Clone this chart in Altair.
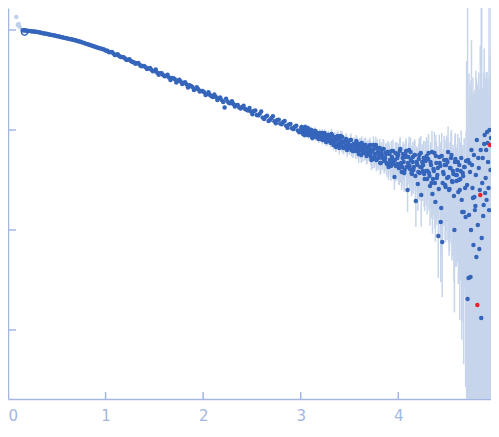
import altair as alt
import pandas as pd

# ---------------- data ----------------
q_low_a = [0.15, 0.18, 0.21, 0.24, 0.27, 0.30, 0.33, 0.36, 0.39, 0.42,
           0.45, 0.48, 0.51, 0.54, 0.57, 0.60, 0.63, 0.66, 0.69, 0.72,
           0.75, 0.78, 0.81, 0.84, 0.87, 0.90, 0.93, 0.96, 0.99, 1.02,
           1.05, 1.08, 1.11, 1.14, 1.17, 1.20, 1.23, 1.26, 1.29, 1.32,
           1.35, 1.38, 1.41, 1.44, 1.47, 1.50, 1.53, 1.56, 1.59, 1.62,
           1.65, 1.68, 1.71, 1.74, 1.77, 1.80, 1.83, 1.86, 1.89, 1.92,
           1.95, 1.98, 2.01, 2.04, 2.07, 2.10, 2.13, 2.16, 2.19, 2.22,
           2.25, 2.28, 2.31, 2.34, 2.37, 2.40, 2.43, 2.46, 2.49, 2.52,
           2.55, 2.58, 2.61, 2.64, 2.67, 2.70, 2.73, 2.76, 2.79, 2.82,
           2.85, 2.88, 2.91, 2.94, 2.97]
i_low_a = [0.995, 0.986, 0.979, 0.971, 0.964, 0.955, 0.942, 0.929, 0.916, 0.904,
           0.891, 0.879, 0.867, 0.853, 0.839, 0.826, 0.815, 0.802, 0.789, 0.773,
           0.757, 0.740, 0.723, 0.708, 0.692, 0.676, 0.662, 0.649, 0.635, 0.620,
           0.601, 0.583, 0.567, 0.551, 0.536, 0.520, 0.505, 0.491, 0.477, 0.464,
           0.450, 0.437, 0.425, 0.412, 0.401, 0.389, 0.373, 0.369, 0.355, 0.347,
           0.335, 0.331, 0.322, 0.309, 0.305, 0.295, 0.285, 0.280, 0.269, 0.257,
           0.255, 0.245, 0.239, 0.229, 0.224, 0.214, 0.214, 0.207, 0.199, 0.168,
           0.193, 0.185, 0.182, 0.177, 0.168, 0.170, 0.162, 0.157, 0.153, 0.155,
           0.141, 0.145, 0.133, 0.136, 0.123, 0.132, 0.1225, 0.126, 0.116, 0.120,
           0.110, 0.1135, 0.104, 0.1076, 0.0989]
err_pct_low_a = [1, 1, 1, 1, 1, 1, 1, 1, 1, 1,
                 1, 1, 1, 1, 1, 1, 1, 1, 1, 1,
                 1, 1, 1, 1, 1, 1, 1, 1, 1, 1,
                 1, 1, 1, 1, 1, 1, 1, 1, 1, 1,
                 1, 1, 1, 1, 1, 1, 2, 2, 2, 2,
                 2, 2, 2, 2, 2, 2, 2, 2, 2, 2,
                 2, 2, 3, 3, 3, 3, 3, 3, 3, 3,
                 3, 3, 3, 3, 3, 3, 3, 3, 3, 4,
                 4, 4, 4, 4, 4, 4, 4, 4, 4, 4,
                 4, 4, 4, 4, 4]

q_low_b = [0.165, 0.195, 0.225, 0.255, 0.285, 0.315, 0.345, 0.375, 0.405, 0.435,
           0.465, 0.495, 0.525, 0.555, 0.585, 0.615, 0.645, 0.675, 0.705, 0.735,
           0.765, 0.795, 0.825, 0.855, 0.885, 0.915, 0.945, 0.975, 1.005, 1.035,
           1.065, 1.095, 1.125, 1.155, 1.185, 1.215, 1.245, 1.275, 1.305, 1.335,
           1.365, 1.395, 1.425, 1.455, 1.485, 1.515, 1.545, 1.575, 1.605, 1.635,
           1.665, 1.695, 1.725, 1.755, 1.785, 1.815, 1.845, 1.875, 1.905, 1.935,
           1.965, 1.995, 2.025, 2.055, 2.085, 2.115, 2.145, 2.175, 2.205, 2.235,
           2.265, 2.295, 2.325, 2.355, 2.385, 2.415, 2.445, 2.475, 2.505, 2.535,
           2.565, 2.595, 2.625, 2.655, 2.685, 2.715, 2.745, 2.775, 2.805, 2.835,
           2.865, 2.895, 2.925, 2.955, 2.985]
i_low_b = [0.991, 0.982, 0.975, 0.966, 0.959, 0.948, 0.935, 0.923, 0.910, 0.897,
           0.885, 0.873, 0.859, 0.847, 0.834, 0.820, 0.807, 0.796, 0.782, 0.766,
           0.748, 0.731, 0.715, 0.700, 0.684, 0.669, 0.655, 0.641, 0.621, 0.598,
           0.603, 0.562, 0.571, 0.537, 0.533, 0.501, 0.509, 0.478, 0.459, 0.467,
           0.434, 0.436, 0.408, 0.417, 0.386, 0.402, 0.356, 0.369, 0.344, 0.358,
           0.317, 0.330, 0.298, 0.319, 0.288, 0.300, 0.266, 0.276, 0.251, 0.268,
           0.242, 0.246, 0.224, 0.239, 0.218, 0.227, 0.200, 0.211, 0.191, 0.205,
           0.186, 0.194, 0.172, 0.178, 0.164, 0.175, 0.159, 0.166, 0.144, 0.157,
           0.140, 0.153, 0.129, 0.139, 0.126, 0.137, 0.117, 0.127, 0.114, 0.123,
           0.105, 0.115, 0.102, 0.110, 0.0947]
err_pct_low_b = [1, 1, 1, 1, 1, 1, 1, 1, 1, 1,
                 1, 1, 1, 1, 1, 1, 1, 1, 1, 1,
                 1, 1, 1, 1, 1, 1, 1, 1, 1, 1,
                 1, 1, 1, 1, 1, 1, 1, 1, 1, 1,
                 1, 1, 1, 1, 1, 2, 2, 2, 2, 2,
                 2, 2, 2, 2, 2, 2, 2, 2, 2, 2,
                 2, 2, 3, 3, 3, 3, 3, 3, 3, 3,
                 3, 3, 3, 3, 3, 3, 3, 3, 4, 4,
                 4, 4, 4, 4, 4, 4, 4, 4, 4, 4,
                 4, 4, 4, 4, 4]

q_high_a = [3.00, 3.01, 3.02, 3.03, 3.04, 3.05, 3.06, 3.07, 3.08, 3.09,
            3.10, 3.11, 3.12, 3.13, 3.14, 3.15, 3.16, 3.17, 3.18, 3.19,
            3.20, 3.21, 3.22, 3.23, 3.24, 3.25, 3.26, 3.27, 3.28, 3.29,
            3.30, 3.31, 3.32, 3.33, 3.34, 3.35, 3.36, 3.37, 3.38, 3.39,
            3.40, 3.41, 3.42, 3.43, 3.44, 3.45, 3.46, 3.47, 3.48, 3.49,
            3.50, 3.51, 3.52, 3.53, 3.54, 3.55, 3.56, 3.57, 3.58, 3.59,
            3.60, 3.61, 3.62, 3.63, 3.64, 3.65, 3.66, 3.67, 3.68, 3.69,
            3.70, 3.71, 3.72, 3.73, 3.74, 3.75, 3.76, 3.77, 3.78, 3.79,
            3.80, 3.81, 3.82, 3.83, 3.84, 3.85, 3.86, 3.87, 3.88, 3.89,
            3.90, 3.91, 3.92, 3.93, 3.94, 3.95, 3.96, 3.97, 3.98, 3.99,
            4.00, 4.01, 4.02, 4.03, 4.04, 4.05, 4.06, 4.07, 4.08, 4.09,
            4.10, 4.11, 4.12, 4.13, 4.14, 4.15, 4.16, 4.17, 4.18, 4.19,
            4.20, 4.21, 4.22, 4.23, 4.24, 4.25, 4.26, 4.27, 4.28, 4.29,
            4.30, 4.31, 4.32, 4.33, 4.34, 4.35, 4.36, 4.37, 4.38, 4.39,
            4.40, 4.41, 4.42, 4.43, 4.44, 4.45, 4.46, 4.47, 4.48, 4.49,
            4.50, 4.51, 4.52, 4.53, 4.54, 4.55, 4.56, 4.57, 4.58, 4.59,
            4.60, 4.61, 4.62, 4.63, 4.64, 4.65, 4.66, 4.67, 4.68, 4.69,
            4.70, 4.71, 4.72, 4.73, 4.74, 4.75, 4.76, 4.77, 4.78, 4.79,
            4.80, 4.81, 4.82, 4.83, 4.84, 4.85, 4.86, 4.87, 4.88, 4.89,
            4.90, 4.91, 4.92, 4.93, 4.94, 4.95]
i_high_a = [0.0977, 0.107, 0.0933, 0.1, 0.0891, 0.1, 0.0955, 0.105, 0.0891, 0.0955,
            0.0891, 0.1, 0.0832, 0.0912, 0.0891, 0.0977, 0.0851, 0.0933, 0.0832, 0.0912,
            0.0912, 0.0813, 0.0933, 0.0832, 0.0813, 0.0891, 0.0759, 0.0851, 0.0891, 0.0776,
            0.0851, 0.0741, 0.0891, 0.0776, 0.0741, 0.0851, 0.0676, 0.0813, 0.0871, 0.0724,
            0.0741, 0.0871, 0.0676, 0.0759, 0.0661, 0.0776, 0.0692, 0.0794, 0.0646, 0.0708,
            0.0676, 0.0794, 0.0631, 0.0708, 0.0617, 0.0724, 0.0661, 0.0776, 0.0617, 0.0692,
            0.0631, 0.0724, 0.0562, 0.0661, 0.0631, 0.0708, 0.0589, 0.0661, 0.0562, 0.0676,
            0.0589, 0.0708, 0.0537, 0.0631, 0.0513, 0.0646, 0.0575, 0.0708, 0.0513, 0.0603,
            0.0537, 0.0661, 0.0468, 0.0575, 0.0537, 0.0646, 0.0501, 0.0589, 0.0468, 0.0603,
            0.0427, 0.0575, 0.0468, 0.0617, 0.0479, 0.0501, 0.0339, 0.0589, 0.0447, 0.0525,
            0.0562, 0.0417, 0.0646, 0.0468, 0.0427, 0.0575, 0.0372, 0.0537, 0.0617, 0.0427,
            0.0468, 0.0631, 0.0407, 0.0501, 0.0363, 0.0537, 0.0427, 0.0562, 0.0195, 0.0468,
            0.0288, 0.0513, 0.0372, 0.0589, 0.0427, 0.0389, 0.0525, 0.0324, 0.0490, 0.0550,
            0.0389, 0.0589, 0.0347, 0.0479, 0.0295, 0.0229, 0.0407, 0.0589, 0.0191, 0.0468,
            0.0355, 0.00871, 0.0537, 0.0437, 0.0166, 0.00759, 0.0380, 0.0501, 0.0282, 0.0447,
            0.0331, 0.0603, 0.0251, 0.0417, 0.0525, 0.0309, 0.0389, 0.0219, 0.0479, 0.0355,
            0.0355, 0.0479, 0.0316, 0.0251, 0.0389, 0.0200, 0.0372, 0.0151, 0.0427, 0.0135,
            0.0490, 0.00204, 0.00331, 0.0468, 0.00339, 0.0631, 0.0263, 0.00708, 0.0214, 0.0174,
            0.00537, 0.00178, 0.0525, 0.00646, 0.0224, 0.00132, 0.0295, 0.0138, 0.0724, 0.0234,
            0.0631, 0.0955, 0.0479, 0.0158, 0.0708, 0.0832]
err_pct_high_a = [6, 7, 6, 7, 7, 8, 7, 6, 8, 7,
                  7, 8, 7, 8, 8, 7, 9, 8, 8, 7,
                  9, 8, 9, 8, 8, 9, 9, 8, 10, 9,
                  10, 11, 10, 12, 11, 12, 11, 12, 13, 12,
                  12, 13, 12, 13, 14, 13, 13, 14, 13, 14,
                  15, 14, 14, 15, 14, 15, 16, 15, 15, 16,
                  16, 15, 17, 16, 16, 17, 16, 17, 18, 17,
                  18, 19, 18, 20, 19, 21, 20, 21, 20, 22,
                  21, 23, 22, 23, 24, 22, 24, 25, 23, 25,
                  26, 25, 27, 26, 27, 28, 26, 28, 29, 30,
                  30, 32, 31, 33, 34, 33, 35, 36, 34, 37,
                  38, 36, 39, 40, 38, 41, 42, 40, 45, 43,
                  46, 44, 47, 48, 46, 50, 49, 52, 51, 55,
                  50, 55, 52, 58, 56, 60, 58, 62, 60, 65,
                  63, 62, 68, 70, 66, 72, 70, 75, 72, 78,
                  76, 80, 78, 82, 80, 84, 82, 86, 85, 88,
                  85, 90, 88, 95, 92, 96, 90, 97, 93, 98,
                  900, 100000, 3000, 500, 5000, 1150, 800, 1400, 1000, 1200,
                  6100, 15000, 400, 3000, 3000, 130000, 800, 1500, 800, 1000,
                  500, 300, 600, 12000, 700, 2100]

q_high_b = [3.005, 3.015, 3.025, 3.035, 3.045, 3.055, 3.065, 3.075, 3.085, 3.095,
            3.105, 3.115, 3.125, 3.135, 3.145, 3.155, 3.165, 3.175, 3.185, 3.195,
            3.205, 3.215, 3.225, 3.235, 3.245, 3.255, 3.265, 3.275, 3.285, 3.295,
            3.305, 3.315, 3.325, 3.335, 3.345, 3.355, 3.365, 3.375, 3.385, 3.395,
            3.405, 3.415, 3.425, 3.435, 3.445, 3.455, 3.465, 3.475, 3.485, 3.495,
            3.505, 3.515, 3.525, 3.535, 3.545, 3.555, 3.565, 3.575, 3.585, 3.595,
            3.605, 3.615, 3.625, 3.635, 3.645, 3.655, 3.665, 3.675, 3.685, 3.695,
            3.705, 3.715, 3.725, 3.735, 3.745, 3.755, 3.765, 3.775, 3.785, 3.795,
            3.805, 3.815, 3.825, 3.835, 3.845, 3.855, 3.865, 3.875, 3.885, 3.895,
            3.905, 3.915, 3.925, 3.935, 3.945, 3.955, 3.965, 3.975, 3.985, 3.995,
            4.005, 4.015, 4.025, 4.035, 4.045, 4.055, 4.065, 4.075, 4.085, 4.095,
            4.105, 4.115, 4.125, 4.135, 4.145, 4.155, 4.165, 4.175, 4.185, 4.195,
            4.205, 4.215, 4.225, 4.235, 4.245, 4.255, 4.265, 4.275, 4.285, 4.295,
            4.305, 4.315, 4.325, 4.335, 4.345, 4.355, 4.365, 4.375, 4.385, 4.395,
            4.405, 4.415, 4.425, 4.435, 4.445, 4.455, 4.465, 4.475, 4.485, 4.495,
            4.505, 4.515, 4.525, 4.535, 4.545, 4.555, 4.565, 4.575, 4.585, 4.595,
            4.605, 4.615, 4.625, 4.635, 4.645, 4.655, 4.665, 4.675, 4.685, 4.695,
            4.705, 4.715, 4.725, 4.735, 4.745, 4.755, 4.765, 4.775, 4.785, 4.795,
            4.805, 4.815, 4.825, 4.835, 4.845, 4.855, 4.865, 4.875, 4.885, 4.895,
            4.905, 4.915, 4.925, 4.935, 4.945]
i_high_b = [0.105, 0.0977, 0.0912, 0.1, 0.107, 0.0912, 0.0955, 0.0891, 0.102, 0.0912,
            0.0955, 0.0851, 0.0955, 0.0891, 0.0977, 0.0851, 0.0891, 0.0912, 0.0813, 0.0933,
            0.0912, 0.0851, 0.0794, 0.0871, 0.0933, 0.0794, 0.0832, 0.0776, 0.0891, 0.0794,
            0.0759, 0.0912, 0.0794, 0.0708, 0.0832, 0.0794, 0.0708, 0.0851, 0.0741, 0.0661,
            0.0813, 0.0724, 0.0851, 0.0676, 0.0759, 0.0692, 0.0813, 0.0631, 0.0741, 0.0708,
            0.0661, 0.0794, 0.0692, 0.0617, 0.0724, 0.0692, 0.0617, 0.0741, 0.0646, 0.0575,
            0.0708, 0.0631, 0.0741, 0.0589, 0.0661, 0.0603, 0.0708, 0.0550, 0.0646, 0.0617,
            0.0676, 0.0575, 0.0501, 0.0617, 0.0708, 0.0525, 0.0575, 0.0501, 0.0661, 0.0525,
            0.0575, 0.0468, 0.0603, 0.0525, 0.0646, 0.0490, 0.0525, 0.0575, 0.0457, 0.0603,
            0.0589, 0.0501, 0.0437, 0.0537, 0.0617, 0.0457, 0.0501, 0.0437, 0.0575, 0.0457,
            0.0417, 0.0617, 0.0457, 0.0380, 0.0525, 0.0479, 0.0398, 0.0562, 0.0427, 0.0251,
            0.0537, 0.0437, 0.0603, 0.0372, 0.0479, 0.0398, 0.0562, 0.0347, 0.0479, 0.0447,
            0.0380, 0.0562, 0.0427, 0.0224, 0.0479, 0.0447, 0.0363, 0.0513, 0.0389, 0.0324,
            0.0513, 0.0372, 0.0275, 0.0447, 0.0603, 0.0324, 0.0389, 0.0295, 0.0550, 0.0331,
            0.0417, 0.0257, 0.0468, 0.0120, 0.0550, 0.0295, 0.0363, 0.0447, 0.0269, 0.0501,
            0.0479, 0.0339, 0.0257, 0.0417, 0.0562, 0.0302, 0.0363, 0.0100, 0.0513, 0.0309,
            0.0398, 0.0240, 0.0447, 0.0324, 0.0525, 0.0151, 0.0347, 0.0427, 0.0263, 0.0490,
            0.0282, 0.0501, 0.0141, 0.0380, 0.0100, 0.0447, 0.0209, 0.0562, 0.0158, 0.0355,
            0.0794, 0.0112, 0.0417, 0.0251, 0.0631, 0.00832, 0.0525, 0.0178, 0.0891, 0.0331,
            0.0200, 0.0741, 0.0263, 0.100, 0.0398]
err_pct_high_b = [7, 6, 7, 8, 7, 7, 8, 7, 8, 8,
                  7, 9, 8, 8, 9, 8, 9, 8, 9, 9,
                  8, 9, 10, 9, 9, 10, 9, 10, 10, 11,
                  11, 12, 11, 12, 13, 12, 13, 12, 13, 14,
                  13, 14, 14, 13, 15, 14, 15, 15, 14, 16,
                  15, 16, 16, 15, 17, 16, 17, 16, 17, 18,
                  17, 18, 17, 18, 19, 18, 19, 18, 20, 19,
                  19, 20, 21, 20, 22, 21, 22, 23, 22, 24,
                  23, 24, 25, 24, 26, 25, 26, 27, 26, 28,
                  27, 28, 29, 28, 30, 29, 31, 30, 32, 31,
                  32, 33, 35, 34, 36, 35, 37, 38, 36, 40,
                  39, 41, 40, 42, 43, 42, 44, 45, 44, 47,
                  46, 48, 49, 52, 50, 52, 53, 51, 55, 56,
                  55, 58, 60, 57, 62, 60, 63, 65, 62, 66,
                  64, 68, 66, 75, 70, 72, 70, 74, 72, 76,
                  74, 78, 76, 80, 78, 82, 80, 85, 82, 86,
                  84, 88, 86, 90, 88, 92, 90, 94, 92, 96,
                  700, 300, 2500, 500, 3000, 400, 1500, 300, 1500, 1000,
                  200, 2500, 800, 900, 400, 20000, 400, 2000, 150, 900,
                  1000, 300, 800, 150, 700]

red_q = [4.81, 4.84, 4.94]            # points flagged in red
faint_q = [0.085, 0.10, 0.11, 0.12]   # excluded low-q points (pale)
faint_i = [1.35, 1.12, 1.15, 1.07]
open_q = [0.17]                       # first point, open ring
open_i = [0.955]

x_tick_values = [0, 1, 2, 3, 4]
x_inner_ticks = [1, 2, 3, 4]
y_tick_values = [1, 0.1, 0.01, 0.001]

# ---------------- styling ----------------
W, H = 483, 391
AXIS = "#a3b7e0"
POINT = "#3565bb"
ERRC = "#c7d5ec"
FAINT = "#c0d0ec"
RED = "#e8212b"

q_all = q_low_a + q_low_b + q_high_a + q_high_b
i_all = i_low_a + i_low_b + i_high_a + i_high_b
e_all = err_pct_low_a + err_pct_low_b + err_pct_high_a + err_pct_high_b
rows = []
for q, i, e in zip(q_all, i_all, e_all):
    s = i * e / 100.0
    rows.append({"q": q, "I": i, "lo": max(i - s, 1e-7), "hi": i + s,
                 "kind": "red" if q in red_q else "main"})
df = pd.DataFrame(rows)
df_faint = pd.DataFrame({"q": faint_q, "I": faint_i})
df_open = pd.DataFrame({"q": open_q, "I": open_i})
df_yt = pd.DataFrame({"v": y_tick_values})
df_xt = pd.DataFrame({"v": x_inner_ticks})

xscale = alt.Scale(domain=[0, 4.95], nice=False, zero=False)
yscale = alt.Scale(type="log", domain=[2.04e-4, 1.66], nice=False)

xaxis = alt.Axis(values=x_tick_values, format="d", grid=False, ticks=False,
                 domainColor=AXIS, domainWidth=1.5, labelColor=AXIS,
                 labelFont="DejaVu Sans", labelFontSize=15, labelPadding=9,
                 labelBaseline="top", labelFlush=True, title=None)
yaxis = alt.Axis(labels=False, ticks=False, grid=False, domainColor=AXIS,
                 domainWidth=1.5, title=None)

X = lambda f: alt.X(f, scale=xscale, axis=xaxis)
Y = lambda f: alt.Y(f, scale=yscale, axis=yaxis)

errbars = alt.Chart(df).mark_rule(color=ERRC, strokeWidth=1.5, clip=True).encode(
    x=X("q:Q"), y=Y("lo:Q"), y2="hi:Q",
)

faint = alt.Chart(df_faint).mark_circle(size=20, opacity=1, color=FAINT, clip=True).encode(
    x=X("q:Q"), y=Y("I:Q"),
)

points = alt.Chart(df).mark_circle(size=20, opacity=1, clip=True).encode(
    x=X("q:Q"), y=Y("I:Q"),
    color=alt.Color("kind:N", scale=alt.Scale(domain=["main", "red"], range=[POINT, RED]),
                    legend=None),
    order=alt.Order("kind:N", sort="ascending"),
)

ring = alt.Chart(df_open).mark_point(size=40, filled=False, color=POINT, strokeWidth=1.5,
                                     opacity=1).encode(
    x=X("q:Q"), y=Y("I:Q"),
)

yticks = alt.Chart(df_yt).mark_rule(color=AXIS, strokeWidth=1.5).encode(
    y=Y("v:Q"), x=alt.value(0), x2=alt.value(8),
)

xticks = alt.Chart(df_xt).mark_rule(color=AXIS, strokeWidth=1.5).encode(
    x=X("v:Q"), y=alt.value(H - 7), y2=alt.value(H),
)

chart = alt.layer(errbars, faint, points, ring, yticks, xticks).properties(
    width=W, height=H,
    autosize=alt.AutoSizeParams(type="none"),
    padding={"left": 0, "top": 0, "right": 0, "bottom": 27},
).configure_view(strokeWidth=0)

chart.save("out.html", embed_options={"renderer": "svg", "actions": False})
